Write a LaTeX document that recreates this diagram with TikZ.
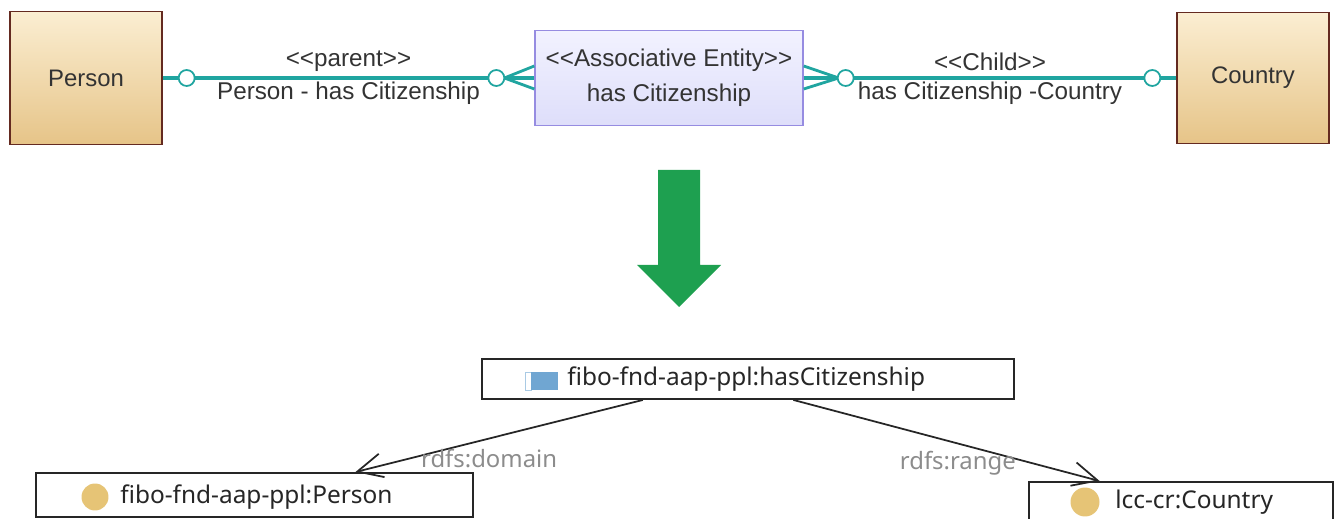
\documentclass[tikz,border=0pt]{standalone}
\usepackage{fontspec}
\setmainfont{Liberation Sans}
\newfontfamily\owlfont{Noto Sans}
\usetikzlibrary{arrows.meta, positioning, calc}

\definecolor{entLight}{RGB}{251,238,210}
\definecolor{entDark}{RGB}{230,196,136}
\definecolor{entBorder}{RGB}{100,42,32}
\definecolor{assocLight}{RGB}{242,242,255}
\definecolor{assocFill}{RGB}{222,222,250}
\definecolor{assocBorder}{RGB}{150,140,225}
\definecolor{relteal}{RGB}{32,165,160}
\definecolor{bigGreen}{RGB}{30,160,80}
\definecolor{iconTan}{RGB}{230,196,118}
\definecolor{iconBlue}{RGB}{112,166,210}
\definecolor{lblgray}{RGB}{140,140,140}

\begin{document}
\begin{tikzpicture}[
      x=0.02cm, y=-0.02cm,
      ent/.style={rectangle, draw=entBorder, line width=0.8pt, top color=entLight, bottom color=entDark, minimum width=3.04cm, minimum height=2.66cm, font=\fontsize{13.6}{16}\selectfont, text=black!80},
      assoc/.style={rectangle, draw=assocBorder, line width=0.8pt, top color=assocLight, bottom color=assocFill, minimum width=5.36cm, minimum height=1.9cm, align=center, font=\fontsize{13.8}{20}\selectfont, text=black!80},
      rel/.style={draw=relteal, line width=2pt},
      ring/.style={circle, draw=relteal, line width=1pt, fill=white, minimum size=0.32cm, inner sep=0pt},
      lbl/.style={font=\fontsize{13.8}{16}\selectfont, text=black!80, inner sep=0pt},
      owl/.style={rectangle, draw=black!85, line width=1.1pt, fill=white, minimum height=0.8cm},
      owltext/.style={font=\owlfont\fontsize{13.9}{16}\selectfont, text=black!85, inner sep=0pt, anchor=west},
      owllbl/.style={font=\owlfont\fontsize{13.6}{16}\selectfont, text=lblgray, inner sep=0pt},
      arrow/.style={-{Straight Barb[length=0.5cm, width=0.48cm]}, draw=black!85, line width=1pt}
    ]
    \useasboundingbox (0,0) rectangle (1335,519);
    \clip (0,0) rectangle (1335,519);

    % ER model
    \node[ent] (person) at (86,78) {Person};
    \node[ent, minimum height=2.62cm] (country) at (1253,78) {Country};
    \node[assoc] (assoc) at (669,78) {<{}<Associative Entity>{}>\\has Citizenship};

    \draw[rel] (person) -- node[lbl, midway, yshift=0.33cm] (parentlbl) {<{}<parent>{}>}
      node[lbl, midway, yshift=-0.3cm] (parentrole) {Person - has Citizenship} (assoc);
    \draw[rel] (assoc) -- node[lbl, midway, yshift=0.33cm] (childlbl) {<{}<Child>{}>}
      node[lbl, midway, yshift=-0.3cm] (childrole) {has Citizenship -Country} (country);

    % crow's feet
    \draw[rel, line width=1.6pt] ($(assoc.west)+(-30,0)$) coordinate (lcrow) -- ($(assoc.west)+(0,-12)$)
      (lcrow) -- ($(assoc.west)+(0,11)$);
    \draw[rel, line width=1.6pt] ($(assoc.east)+(35,0)$) coordinate (rcrow) -- ($(assoc.east)+(0,-12)$)
      (rcrow) -- ($(assoc.east)+(0,11)$);

    \node[ring] (pring) at ($(person.east)+(24,0)$) {};
    \node[ring] (alring) at ($(assoc.west)+(-38,0)$) {};
    \node[ring] (arring) at ($(assoc.east)+(42,0)$) {};
    \node[ring] (cring) at ($(country.west)+(-24,0)$) {};

    % mapping arrow
    \fill[bigGreen] (658,170) -- (700,170) -- (700,265) -- (721,265) -- (679,307) -- (637,265) -- (658,265) -- cycle;

    % OWL model
    \node[owl, minimum width=10.64cm] (hcbox) at (748,379) {};
    \draw[iconBlue!60, fill=white, line width=0.4pt] (525,372) rectangle (531,390);
    \fill[iconBlue] (531,372) rectangle (558,390);
    \node[owltext] (hctext) at (567,379) {fibo-fnd-aap-ppl:hasCitizenship};

    \node[owl, minimum width=8.74cm, minimum height=0.88cm] (pbox) at (254.5,495) {};
    \fill[iconTan] (95,497) circle[radius=0.27cm];
    \node[owltext] (ptext) at (120,497) {fibo-fnd-aap-ppl:Person};

    \node[owl, minimum width=6.08cm, minimum height=0.88cm] (cbox) at (1181,504) {};
    \fill[iconTan] (1085,502) circle[radius=0.29cm];
    \node[owltext] (ctext) at (1115,502) {lcc-cr:Country};

    \draw[arrow] ($(hcbox.south west)!0.303!(hcbox.south east)$) -- node[owllbl, pos=0.535, yshift=-0.4cm] (domlbl) {rdfs:domain}
      ($(pbox.north west)!0.73!(pbox.north east)$);
    \draw[arrow] ($(hcbox.south west)!0.585!(hcbox.south east)$) -- node[owllbl, pos=0.537, yshift=-0.4cm] (rnglbl) {rdfs:range}
      ($(cbox.north west)!0.234!(cbox.north east)$);
  \end{tikzpicture}
\end{document}
